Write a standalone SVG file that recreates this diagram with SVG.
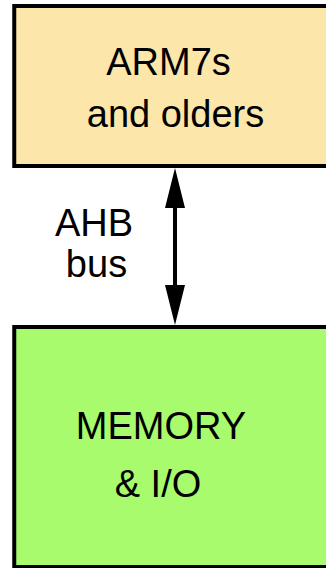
<svg xmlns="http://www.w3.org/2000/svg" width="326" height="568" viewBox="0 0 326 568">
<style>
.box{stroke:#000;stroke-width:4}
.t{font-family:"Liberation Sans",Arial,sans-serif;font-size:38px;fill:#000;text-anchor:middle}
.conn{stroke:#000;stroke-width:4;fill:none}
</style>
<defs>
<marker id="ah" markerUnits="userSpaceOnUse" markerWidth="40" markerHeight="20" refX="8" refY="10" orient="auto-start-reverse" viewBox="0 0 40 20">
<path d="M0,0 L40,10 L0,20 Z" fill="#000"/>
</marker>
</defs>
<rect width="326" height="568" fill="#fff"/>
<g id="cpu">
<rect class="box" x="14.25" y="6" width="330" height="160" fill="#FCE6A9"/>
<text class="t" x="168.5" y="75">ARM7s</text>
<text class="t" x="175.5" y="127">and olders</text>
</g>
<g id="mem">
<rect class="box" x="14.25" y="327" width="330" height="240" fill="#A8FB6D"/>
<text class="t" x="161" y="439">MEMORY</text>
<text class="t" x="158" y="497">&amp; I/O</text>
</g>
<g id="connectors">
<line class="conn" x1="175" y1="200" x2="175" y2="293" marker-start="url(#ah)" marker-end="url(#ah)"/>
<text class="t" x="94" y="236">AHB</text>
<text class="t" x="96.5" y="277">bus</text>
</g>
</svg>
